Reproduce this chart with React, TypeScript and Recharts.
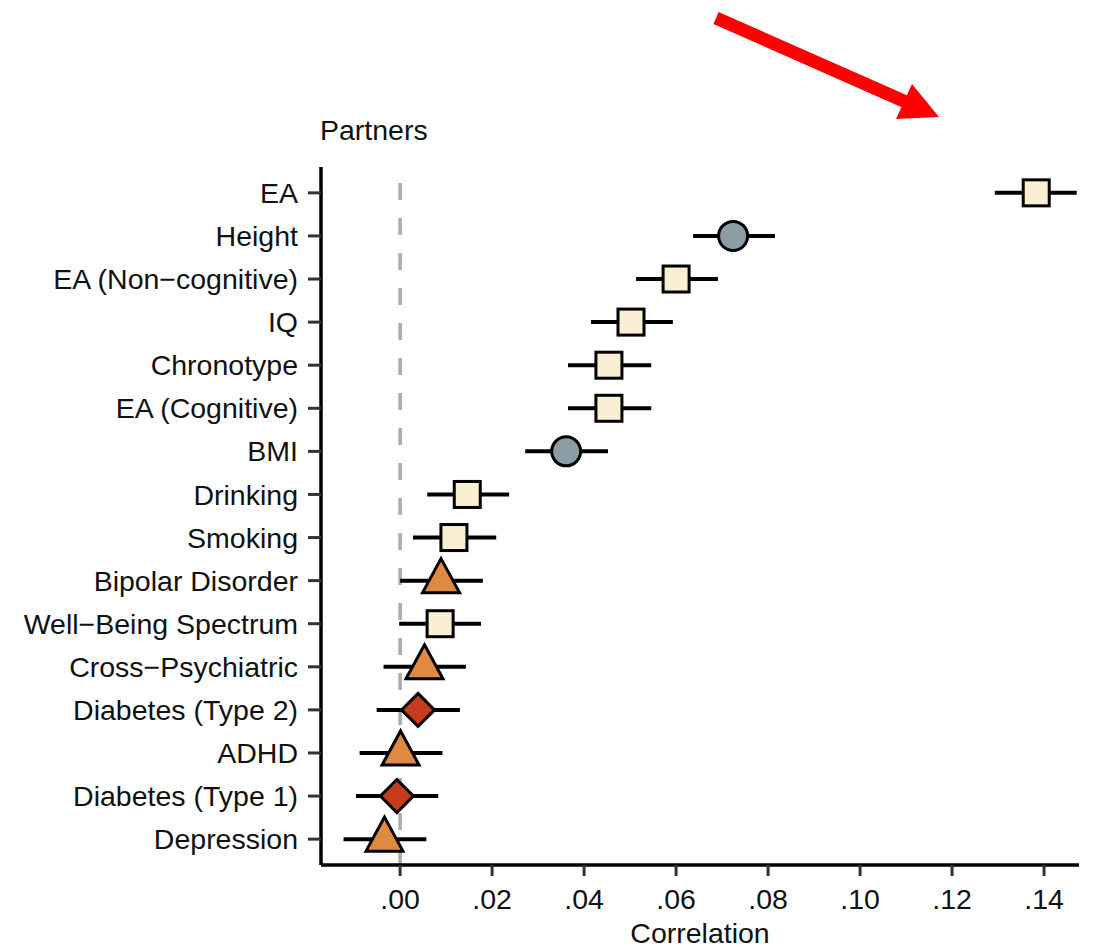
import {
  ScatterChart, Scatter, XAxis, YAxis, ErrorBar, ReferenceLine
} from 'recharts'

const TRAITS = [
  'EA', 'Height', 'EA (Non\u2212cognitive)', 'IQ', 'Chronotype', 'EA (Cognitive)', 'BMI',
  'Drinking', 'Smoking', 'Bipolar Disorder', 'Well\u2212Being Spectrum', 'Cross\u2212Psychiatric',
  'Diabetes (Type 2)', 'ADHD', 'Diabetes (Type 1)', 'Depression',
]
const ESTIMATE = [
  0.1383, 0.0724, 0.0600, 0.0502, 0.0454, 0.0454, 0.0361,
  0.0146, 0.0117, 0.0089, 0.0087, 0.0053, 0.0039, 0.0001, -0.0007, -0.0034,
]
const LOWER = [
  0.1293, 0.0637, 0.0513, 0.0415, 0.0365, 0.0365, 0.0272,
  0.0059, 0.0028, 0.0000, -0.0002, -0.0036, -0.0051, -0.0088, -0.0096, -0.0123,
]
const UPPER = [
  0.1471, 0.0815, 0.0691, 0.0593, 0.0546, 0.0546, 0.0452,
  0.0237, 0.0209, 0.0180, 0.0176, 0.0143, 0.0130, 0.0092, 0.0083, 0.0057,
]
// trait category -> marker
const KIND = [
  'square', 'circle', 'square', 'square', 'square', 'square', 'circle',
  'square', 'square', 'triangle', 'square', 'triangle', 'diamond', 'triangle', 'diamond', 'triangle',
]
const X_TICKS = [0, 0.02, 0.04, 0.06, 0.08, 0.1, 0.12, 0.14]

const FILLS: Record<string, string> = {
  square: '#FAEFD3',
  circle: '#8B9EA5',
  triangle: '#DF8A40',
  diamond: '#C73A1A',
}

const data = TRAITS.map((name, i) => ({
  name,
  y: i + 1,
  x: ESTIMATE[i],
  err: [ESTIMATE[i] - LOWER[i], UPPER[i] - ESTIMATE[i]],
  kind: KIND[i],
}))

const FONT = '"Liberation Sans", Arial, sans-serif'
const FS = 28.5

function Marker(props: any) {
  const { cx, cy, payload } = props
  const fill = FILLS[payload.kind]
  const common = { fill, stroke: '#000', strokeWidth: 3, strokeLinejoin: 'miter' as const }
  if (payload.kind === 'square') {
    return <rect x={cx - 13} y={cy - 13} width={26} height={26} {...common} />
  }
  if (payload.kind === 'circle') {
    return <circle cx={cx} cy={cy} r={14.5} {...common} />
  }
  if (payload.kind === 'diamond') {
    const d = 16.5
    return <polygon points={`${cx},${cy - d} ${cx + d},${cy} ${cx},${cy + d} ${cx - d},${cy}`} {...common} />
  }
  return (
    <polygon
      points={`${cx},${cy - 22} ${cx + 18.5},${cy + 12} ${cx - 18.5},${cy + 12}`}
      {...common}
    />
  )
}

const fmt = (v: number) => '.' + Math.round(v * 100).toString().padStart(2, '0')

export default function App() {
  return (
    <div style={{ position: 'absolute', left: 0, top: 0, width: 1100, height: 950, fontFamily: FONT, background: '#fff' }}>
      <ScatterChart width={1100} height={950} margin={{ top: 167, right: 21, bottom: 0, left: 0 }}>
        <XAxis
          type="number"
          dataKey="x"
          domain={[-0.0172, 0.1476]}
          allowDataOverflow
          ticks={X_TICKS}
          interval={0}
          tickFormatter={fmt}
          height={85}
          tickSize={11}
          tickMargin={13}
          axisLine={{ stroke: '#000', strokeWidth: 3.5 }}
          tickLine={{ stroke: '#333', strokeWidth: 3 }}
          tick={{ fontSize: FS, fill: '#111' }}
          label={{ value: 'Correlation', position: 'insideBottom', offset: 7, fontSize: FS, fill: '#111' }}
        />
        <YAxis
          type="number"
          dataKey="y"
          domain={[0.4, 16.6]}
          reversed
          ticks={TRAITS.map((_, i) => i + 1)}
          interval={0}
          tickFormatter={(v: number) => TRAITS[v - 1] ?? ''}
          width={321}
          tickSize={13}
          tickMargin={10}
          axisLine={{ stroke: '#000', strokeWidth: 3.5 }}
          tickLine={{ stroke: '#333', strokeWidth: 3 }}
          tick={{ fontSize: FS, fill: '#111' }}
        />
        <ReferenceLine x={0} stroke="#AAAAAA" strokeWidth={3.5} strokeDasharray="17 18" />
        <Scatter data={data} shape={Marker} isAnimationActive={false}>
          <ErrorBar dataKey="err" direction="x" width={0} stroke="#000" strokeWidth={4} />
        </Scatter>
      </ScatterChart>
      <div style={{ position: 'absolute', left: 320, top: 114, fontSize: FS, color: '#111', lineHeight: '32px' }}>
        Partners
      </div>
      <svg width={1100} height={950} style={{ position: 'absolute', left: 0, top: 0, pointerEvents: 'none' }}>
        <line x1={716} y1={18} x2={906} y2={102} stroke="#FF0000" strokeWidth={13} />
        <polygon points="912,84 896,119 939,117" fill="#FF0000" />
      </svg>
    </div>
  )
}
